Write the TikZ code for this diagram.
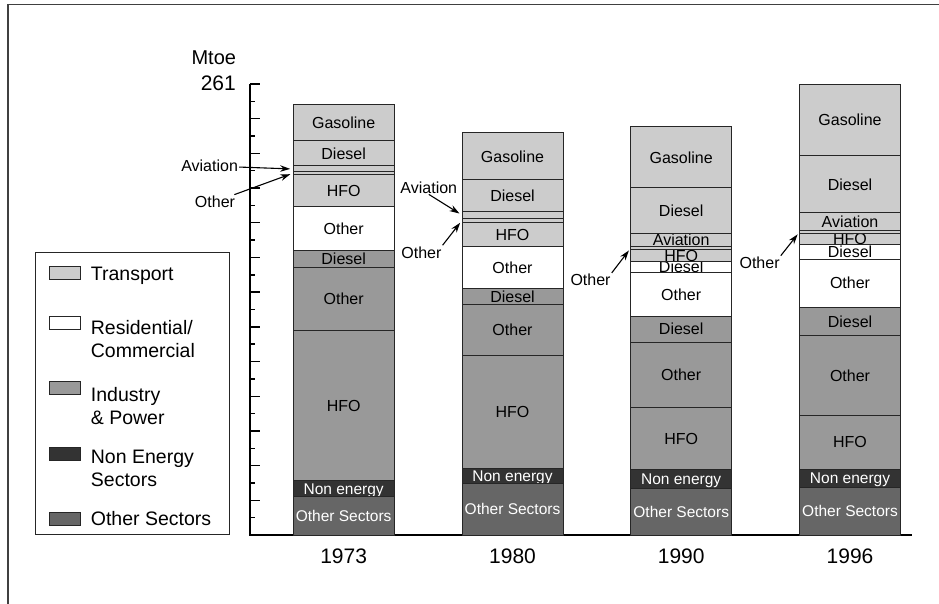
\documentclass[tikz,border=0pt]{standalone}
\usepackage{fontspec}
\setmainfont{Liberation Sans}
\usetikzlibrary{arrows.meta,positioning}

\tikzset{
  seg/.style={draw=black!85, line width=1pt, minimum width=101pt, inner sep=0pt, outer sep=0pt},
  fillTr/.style={fill=black!20},
  fillRc/.style={fill=white},
  fillIn/.style={fill=black!40},
  fillNe/.style={fill=black!80},
  fillOs/.style={fill=black!60},
  segtxt/.style={inner sep=0pt, text depth=0pt},
  txtDark/.style={font=\fontsize{16}{19}\selectfont, text height=11.5pt},
  txtLight/.style={font=\fontsize{15.5}{19}\selectfont, text=white, text height=11.1pt},
  side/.style={font=\fontsize{16}{19}\selectfont, inner sep=1pt},
  swatch/.style={draw=black!85, line width=1pt, minimum width=30.7pt, minimum height=13pt, inner sep=0pt},
  keytxt/.style={font=\fontsize{19.5}{23.3}\selectfont, align=left, inner sep=0pt, anchor=north west},
  year/.style={font=\fontsize{21}{25}\selectfont},
  axis/.style={line width=1.4pt, black},
  arr/.style={->, line width=1.1pt, shorten >=3pt}
}

\begin{document}
\begin{tikzpicture}[x=1pt,y=-1pt,>={Stealth[length=10pt,width=6.5pt]}]
\useasboundingbox (0,0) rectangle (939,604);

% frame
\draw[line width=1.5pt, black!75] (8,604) -- (8,4.7) -- (939,4.7);

% axis
\node[font=\fontsize{20}{24}\selectfont] (unit) at (213.8,58) {Mtoe};
\node[font=\fontsize{21}{25}\selectfont, anchor=east, inner sep=0pt] (topval) at (236,83.3) {261};
\draw[axis] (250,84) -- (250,535) -- (912,535);
\foreach \k in {0,...,26}{
  \pgfmathsetmacro\ty{535-\k*451/26}
  \ifodd\k \draw[axis] (250,\ty) -- ++(5,0); \else \draw[axis] (250,\ty) -- ++(10,0); \fi
}

% 1973
\foreach \a/\b/\c/\t/\k [count=\i] in {
  104.3/141/fillTr/Gasoline/txtDark,
  141/166/fillTr/Diesel/txtDark,
  166/172/fillTr/{}/txtDark,
  172/174.3/fillTr/{}/txtDark,
  174.3/206.7/fillTr/HFO/txtDark,
  206.7/250/fillRc/Other/txtDark,
  250/267.3/fillIn/Diesel/txtDark,
  267.3/330/fillIn/Other/txtDark,
  330/480.7/fillIn/HFO/txtDark,
  480.7/496.7/fillNe/Non energy/txtLight,
  496.7/535/fillOs/Other Sectors/txtLight}{
  \node[seg,\c,minimum height={(\b-\a)*1pt},
    path picture={\node[segtxt,\k] at (path picture bounding box.center) {\t};}]
    (s73-\i) at (343.65,{(\a+\b)/2}) {};
}

% 1980
\foreach \a/\b/\c/\t/\k [count=\i] in {
  132.7/180/fillTr/Gasoline/txtDark,
  180/211.7/fillTr/Diesel/txtDark,
  211.7/218.5/fillTr/{}/txtDark,
  218.5/222.3/fillTr/{}/txtDark,
  222.3/246.7/fillTr/HFO/txtDark,
  246.7/288.3/fillRc/Other/txtDark,
  288.3/304.3/fillIn/Diesel/txtDark,
  304.3/355.7/fillIn/Other/txtDark,
  355.7/468.3/fillIn/HFO/txtDark,
  468.3/483.7/fillNe/Non energy/txtLight,
  483.7/535/fillOs/Other Sectors/txtLight}{
  \node[seg,\c,minimum height={(\b-\a)*1pt},
    path picture={\node[segtxt,\k] at (path picture bounding box.center) {\t};}]
    (s80-\i) at (512.5,{(\a+\b)/2}) {};
}

% 1990
\foreach \a/\b/\c/\t/\k [count=\i] in {
  127/188/fillTr/Gasoline/txtDark,
  188/233.3/fillTr/Diesel/txtDark,
  233.3/246.7/fillTr/Aviation/txtDark,
  246.7/249.5/fillTr/{}/txtDark,
  249.5/261.7/fillTr/HFO/txtDark,
  261.7/272.7/fillRc/Diesel/txtDark,
  272.7/316/fillRc/Other/txtDark,
  316/342.3/fillIn/Diesel/txtDark,
  342.3/407.3/fillIn/Other/txtDark,
  407.3/469.3/fillIn/HFO/txtDark,
  469.3/488.3/fillNe/Non energy/txtLight,
  488.3/535/fillOs/Other Sectors/txtLight}{
  \node[seg,\c,minimum height={(\b-\a)*1pt},
    path picture={\node[segtxt,\k] at (path picture bounding box.center) {\t};}]
    (s90-\i) at (681.2,{(\a+\b)/2}) {};
}

% 1996
\foreach \a/\b/\c/\t/\k [count=\i] in {
  84.3/156/fillTr/Gasoline/txtDark,
  156/212.7/fillTr/Diesel/txtDark,
  212.7/230.7/fillTr/Aviation/txtDark,
  230.7/233.3/fillTr/{}/txtDark,
  233.3/244/fillTr/HFO/txtDark,
  244/259/fillRc/Diesel/txtDark,
  259/307.3/fillRc/Other/txtDark,
  307.3/335.7/fillIn/Diesel/txtDark,
  335.7/415.3/fillIn/Other/txtDark,
  415.3/469/fillIn/HFO/txtDark,
  469/487.3/fillNe/Non energy/txtLight,
  487.3/535/fillOs/Other Sectors/txtLight}{
  \node[seg,\c,minimum height={(\b-\a)*1pt},
    path picture={\node[segtxt,\k] at (path picture bounding box.center) {\t};}]
    (s96-\i) at (850,{(\a+\b)/2}) {};
}

% years
\node[year] (y73) at (343.65,556.7) {1973};
\node[year] (y80) at (512.5,556.7) {1980};
\node[year] (y90) at (681.2,556.7) {1990};
\node[year] (y96) at (850,556.7) {1996};

% side labels
\node[side] (l73av) at (209.6,166) {Aviation};
\node[side] (l73ot) at (215,201.7) {Other};
\node[side] (l80av) at (428.8,187.3) {Aviation};
\node[side] (l80ot) at (421.4,252.3) {Other};
\node[side] (l90ot) at (590.5,280) {Other};
\node[side] (l96ot) at (759.6,262.7) {Other};

\draw[arr] (l73av) -- (s73-3.west);
\draw[arr] (l73ot) -- (s73-4.west);
\draw[arr] (l80av.south) -- (s80-3.west);
\draw[arr] (l80ot.north east) -- (s80-4.west);
\draw[arr] (l90ot.north east) -- (s90-4.west);
\draw[arr] (l96ot.north east) -- (s96-4.west);

% legend
\node[draw=black!85, line width=1pt, minimum width=194.3pt, minimum height=282pt, inner sep=0pt] (legend) at (132.15,393.3) {};
\node[swatch,fillTr] (k1) at (64.7,273.3) {};
\node[swatch,fillRc] (k2) at (64.7,322.7) {};
\node[swatch,fillIn] (k3) at (64.7,387.7) {};
\node[swatch,fillNe] (k4) at (64.7,454.3) {};
\node[swatch,fillOs] (k5) at (64.7,518.5) {};
\node[keytxt] (t1) at (90.7,266.7) {Transport};
\node[keytxt] (t2) at (90.7,320) {Residential/\\Commercial};
\node[keytxt] (t3) at (90.7,386.7) {Industry\\\& Power};
\node[keytxt] (t4) at (90.7,450) {Non Energy\\Sectors};
\node[keytxt] (t5) at (90.7,511) {Other Sectors};
\end{tikzpicture}
\end{document}
